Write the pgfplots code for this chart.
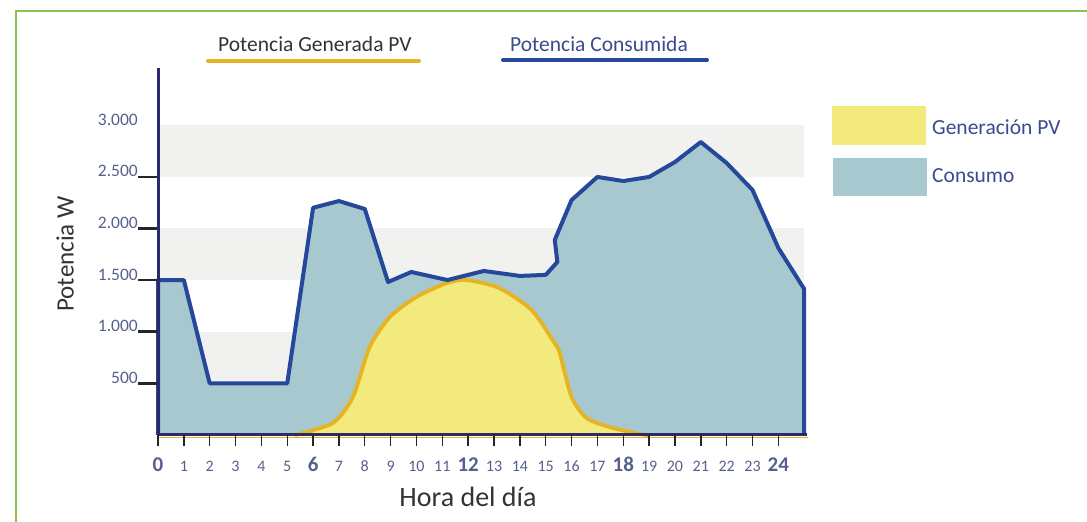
\documentclass[border=0pt]{standalone}
\usepackage{pgfplots}
\pgfplotsset{compat=1.18}
\usepackage{fontspec}
\setmainfont{Carlito}
\definecolor{bandgray}{HTML}{F1F1F0}
\definecolor{consfill}{HTML}{A7C8CE}
\definecolor{consline}{HTML}{26489A}
\definecolor{pvfill}{HTML}{F2EA7C}
\definecolor{pvline}{HTML}{E6B422}
\definecolor{axisnavy}{HTML}{2B2A6B}
\definecolor{ticklab}{HTML}{56608E}
\definecolor{labgray}{HTML}{333333}
\definecolor{legblue}{HTML}{3B4A90}
\definecolor{framegreen}{HTML}{8CC152}
\newcommand{\bt}[1]{{\fontsize{21}{21}\selectfont\bfseries #1}}
\begin{document}
\begin{tikzpicture}[x=1pt,y=1pt]
\useasboundingbox (0,0) rectangle (1087,522);
\draw[framegreen, line width=2pt] (16,0) -- (16,511) -- (1087,511);
% top legend
\node[anchor=base west, inner sep=0pt, text=labgray, font=\fontsize{21.5}{21.5}\selectfont] at (218,470) {Potencia Generada PV};
\draw[pvline, line width=4pt, line cap=round] (208,461) -- (419,461);
\node[anchor=base west, inner sep=0pt, text=legblue, font=\fontsize{21.5}{21.5}\selectfont] at (510,470) {Potencia Consumida};
\draw[consline, line width=4pt, line cap=round] (503,462) -- (707,462);
% right legend
\fill[pvfill] (832,377) rectangle (926,416);
\fill[consfill] (833,326) rectangle (927,364);
\node[anchor=west, inner sep=0pt, text=legblue, font=\fontsize{21.5}{21.5}\selectfont] at (932,395) {Generación PV};
\node[anchor=west, inner sep=0pt, text=legblue, font=\fontsize{21.5}{21.5}\selectfont] at (932,346) {Consumo};
% axis labels
\node[rotate=90, text=labgray, font=\fontsize{25}{25}\selectfont] at (65,268) {Potencia W};
\node[anchor=base, inner sep=0pt, text=labgray, font=\fontsize{28}{28}\selectfont] at (468,15) {Hora del día};
\draw[pvline, line width=1.2pt] (158,84.2) -- (808,84.2);
\begin{axis}[
  at={(158pt,87pt)}, anchor=south west,
  scale only axis, width=648.8pt, height=367pt,
  xmin=0, xmax=25.1, ymin=0, ymax=3553,
  clip=false, axis on top=true,
  axis x line=bottom, axis y line=left,
  axis line style={-, axisnavy, line width=3pt},
  tick align=outside,
  major tick length=20pt,
  ytick={500,1000,1500,2000,2500},
  yticklabels={500,1.000,1.500,2.000,2.500},
  ytick style={black!85, line width=2.5pt},
  yticklabel style={anchor=base east, inner sep=0pt, text=ticklab, font=\fontsize{17.5}{17.5}\selectfont},
  extra y ticks={3000},
  extra y tick labels={3.000},
  extra y tick style={major tick length=0pt, yticklabel style={xshift=-20pt}},
  xtick=\empty,
  extra x ticks={0,1,...,24},
  extra x tick labels={\bt{0},1,2,3,4,5,\bt{6},7,8,9,10,11,\bt{12},13,14,15,16,17,\bt{18},19,20,21,22,23,\bt{24}},
  extra x tick style={major tick length=11pt, xtick style={black!85, line width=1.4pt},
     xticklabel style={anchor=base, inner sep=0pt, yshift=-25pt, text=ticklab, font=\fontsize{16}{16}\selectfont}},
]
\fill[bandgray] (axis cs:0,500) rectangle (axis cs:25,1000);
\fill[bandgray] (axis cs:0,1500) rectangle (axis cs:25,2000);
\fill[bandgray] (axis cs:0,2500) rectangle (axis cs:25,3000);
% consumption
\addplot[fill=consfill, draw=none] coordinates {
 (0,1500) (1,1500) (2,500) (5,500) (6,2200) (7,2265) (8,2188) (8.9,1481)
 (9.8,1578) (11.2,1500) (12.6,1588) (14,1540) (15,1550) (15.45,1675) (15.35,1888)
 (16,2275) (17,2498) (18,2459) (19,2498) (20,2643) (21,2836) (22,2633)
 (23,2372) (24,1810) (25,1413)} \closedcycle;
% PV
\addplot[fill=pvfill, draw=none, smooth, tension=0.45] coordinates {
 (5.3,0) (6.76,116) (7.54,368) (8.19,852) (8.97,1142) (10.0,1336)
 (11.17,1471) (11.94,1500) (13.2,1423) (14.45,1210) (15.34,890) (15.54,793)
 (16.0,368) (16.58,165) (17.47,77) (18.63,10) (19,0)} \closedcycle;
\addplot[draw=pvline, line width=3.8pt, smooth, tension=0.45] coordinates {
 (5.3,0) (6.76,116) (7.54,368) (8.19,852) (8.97,1142) (10.0,1336)
 (11.17,1471) (11.94,1500) (13.2,1423) (14.45,1210) (15.34,890) (15.54,793)
 (16.0,368) (16.58,165) (17.47,77) (18.63,10) (19,0)};
% consumption outline
\addplot[draw=consline, line width=4pt, line join=round] coordinates {
 (0,0) (0,1500) (1,1500) (2,500) (5,500) (6,2200) (7,2265) (8,2188) (8.9,1481)
 (9.8,1578) (11.2,1500) (12.6,1588) (14,1540) (15,1550) (15.45,1675) (15.35,1888)
 (16,2275) (17,2498) (18,2459) (19,2498) (20,2643) (21,2836) (22,2633)
 (23,2372) (24,1810) (25,1413) (25,0)};
\end{axis}
\end{tikzpicture}
\end{document}
